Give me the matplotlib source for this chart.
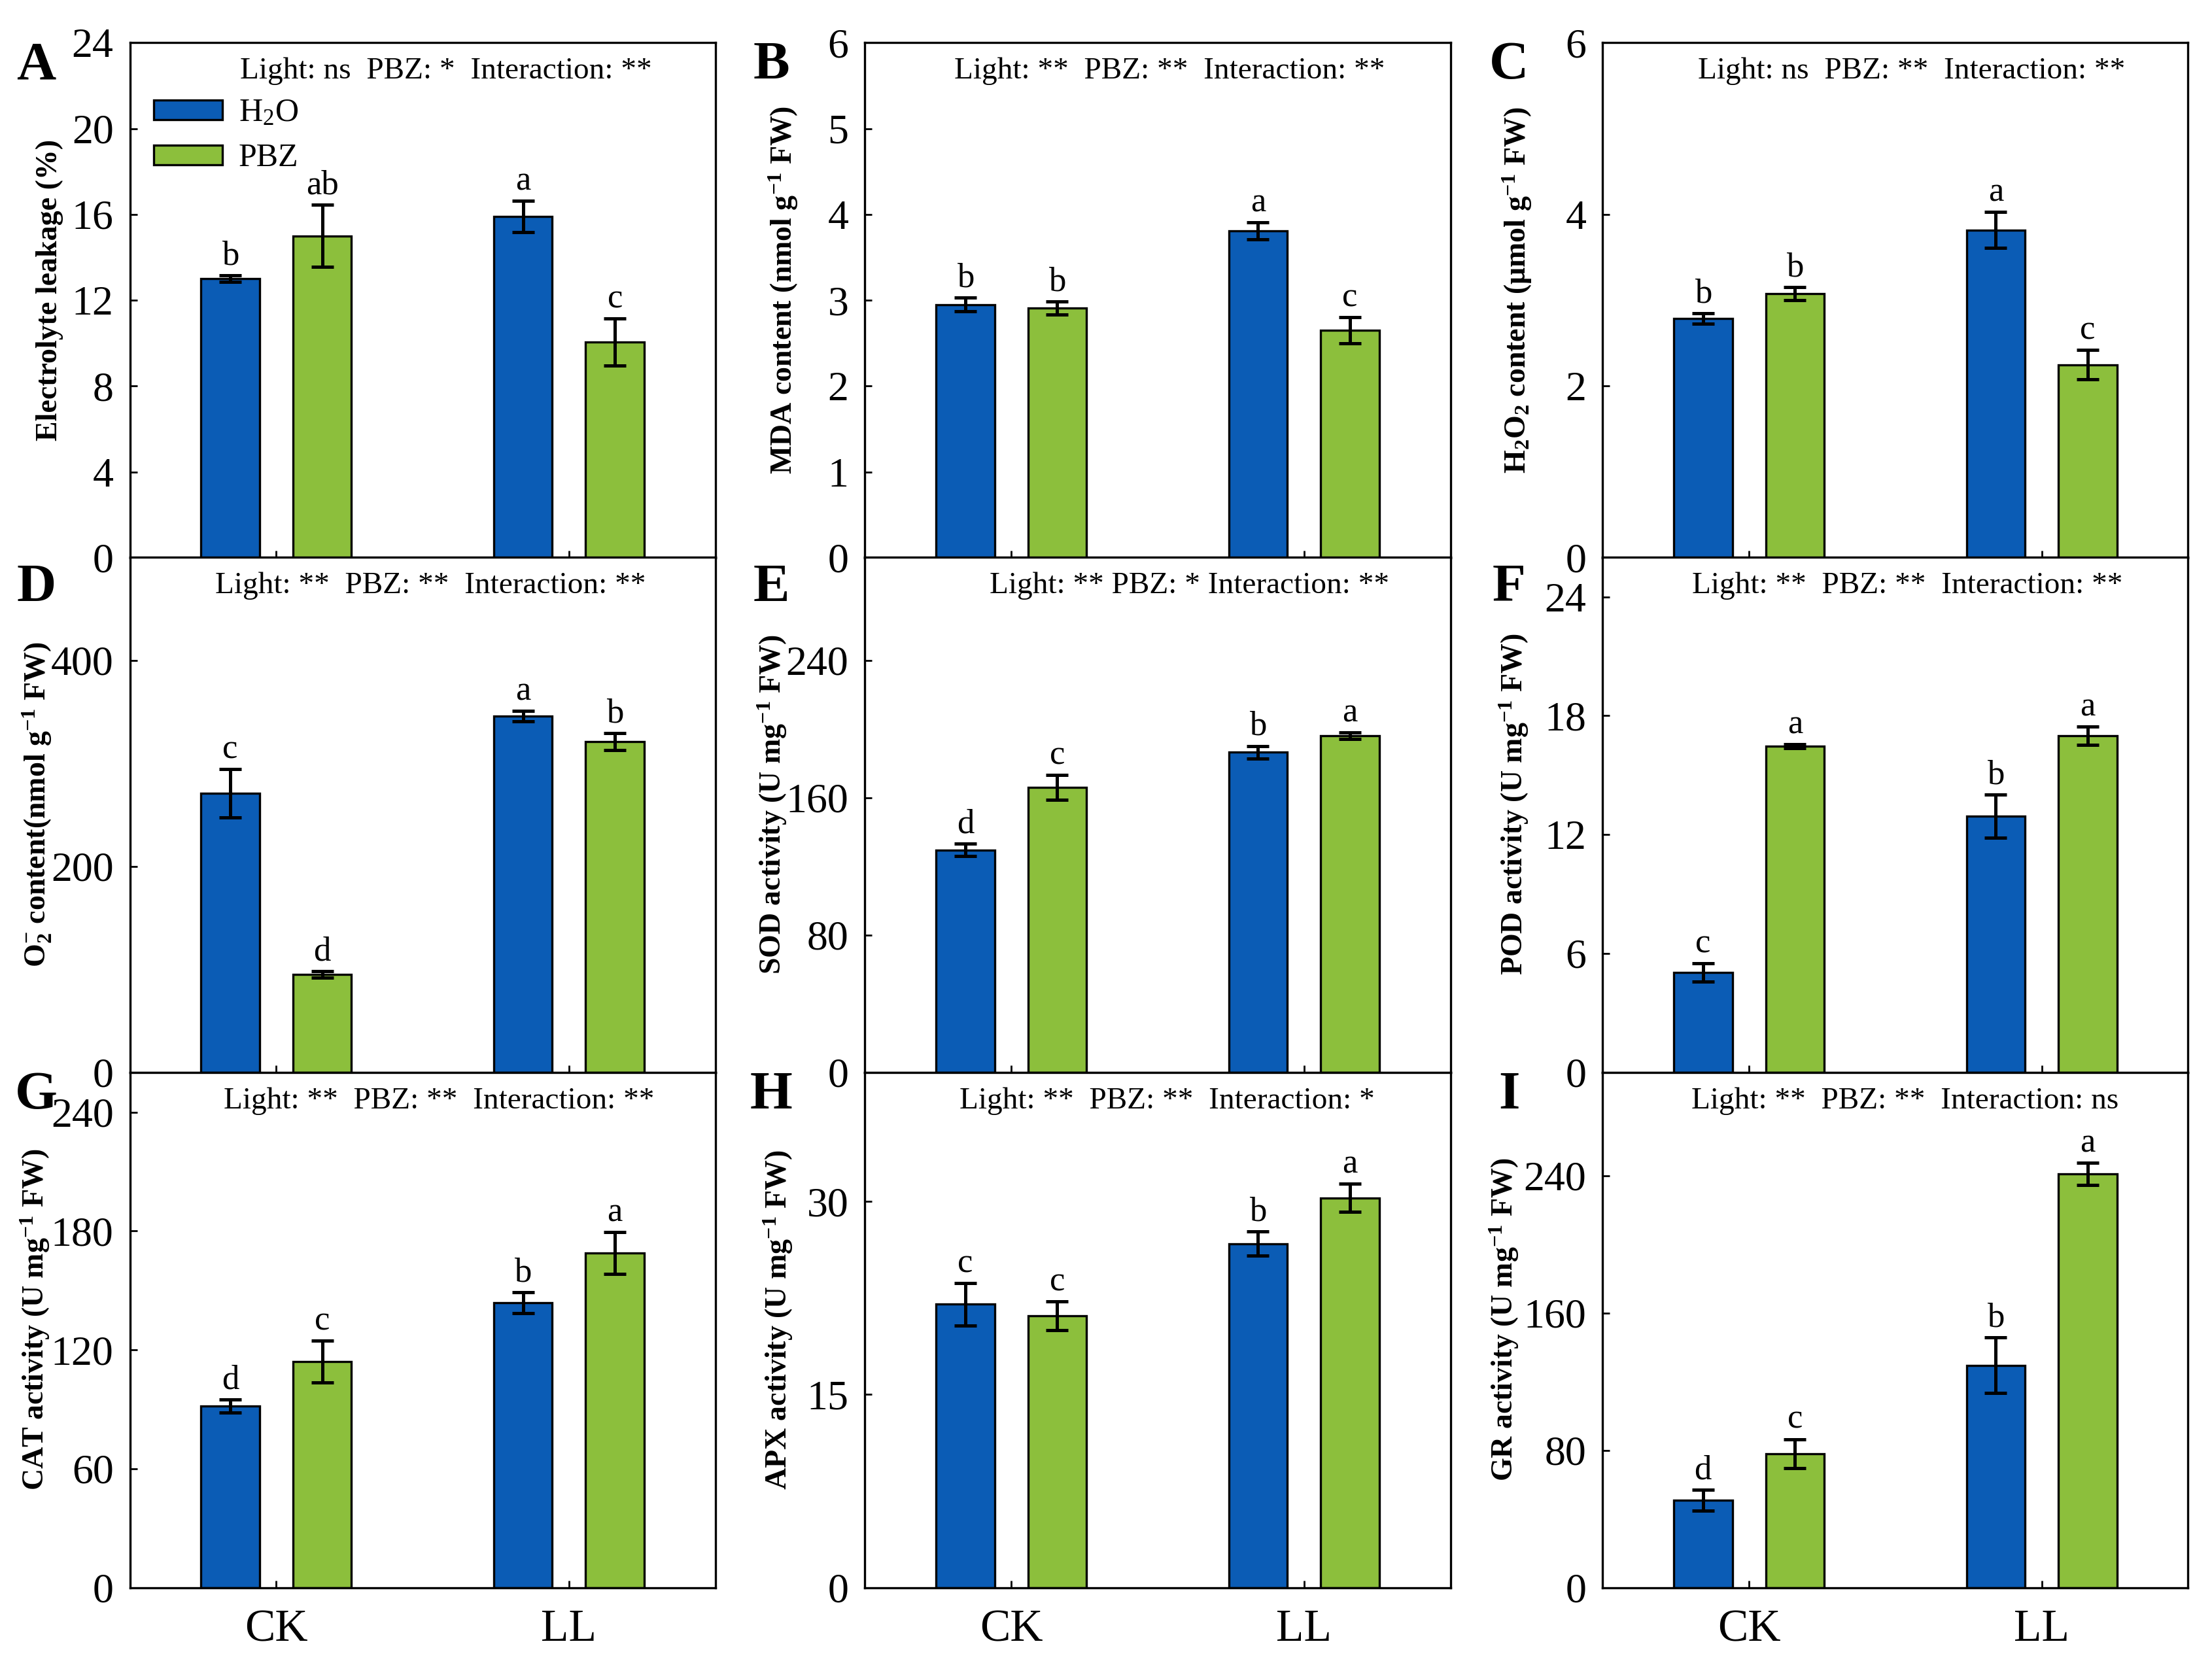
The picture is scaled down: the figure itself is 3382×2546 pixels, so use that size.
import numpy as np
import matplotlib
matplotlib.use("Agg")
import matplotlib.pyplot as plt

plt.rcParams['font.family'] = ['Liberation Serif', 'DejaVu Serif']
plt.rcParams['mathtext.fontset'] = 'custom'
plt.rcParams['mathtext.rm'] = 'Liberation Serif'
plt.rcParams['mathtext.it'] = 'Liberation Serif:italic'
plt.rcParams['mathtext.bf'] = 'Liberation Serif:bold'
plt.rcParams['mathtext.default'] = 'regular'

# groups: CK, LL ; treatments: H2O, PBZ
groups = ["CK", "LL"]
treatments = ["H$_2$O", "PBZ"]

el_h2o = [13.0, 15.9]
el_h2o_err = [0.15, 0.74]
el_pbz = [15.0, 10.05]
el_pbz_err = [1.45, 1.1]
el_letters = [["b", "a"], ["ab", "c"]]

mda_h2o = [2.95, 3.81]
mda_h2o_err = [0.08, 0.10]
mda_pbz = [2.91, 2.65]
mda_pbz_err = [0.076, 0.15]
mda_letters = [["b", "a"], ["b", "c"]]

h2o2_h2o = [2.79, 3.82]
h2o2_h2o_err = [0.06, 0.21]
h2o2_pbz = [3.08, 2.25]
h2o2_pbz_err = [0.076, 0.17]
h2o2_letters = [["b", "a"], ["b", "c"]]

o2_h2o = [271, 346]
o2_h2o_err = [23.5, 5]
o2_pbz = [95, 321]
o2_pbz_err = [3.3, 8]
o2_letters = [["c", "a"], ["d", "b"]]

sod_h2o = [129.5, 186.4]
sod_h2o_err = [3.6, 3.7]
sod_pbz = [166, 196]
sod_pbz_err = [7.2, 2]
sod_letters = [["d", "b"], ["c", "a"]]

pod_h2o = [5.03, 12.93]
pod_h2o_err = [0.46, 1.08]
pod_pbz = [16.46, 16.99]
pod_pbz_err = [0.11, 0.45]
pod_letters = [["c", "b"], ["a", "a"]]

cat_h2o = [91.7, 143.8]
cat_h2o_err = [3.3, 5.2]
cat_pbz = [114, 168.9]
cat_pbz_err = [10.6, 10.5]
cat_letters = [["d", "b"], ["c", "a"]]

apx_h2o = [22.0, 26.7]
apx_h2o_err = [1.63, 0.94]
apx_pbz = [21.1, 30.27]
apx_pbz_err = [1.12, 1.1]
apx_letters = [["c", "b"], ["c", "a"]]

gr_h2o = [50.9, 129.5]
gr_h2o_err = [6.2, 16.2]
gr_pbz = [78, 241.1]
gr_pbz_err = [8.5, 6.4]
gr_letters = [["d", "b"], ["c", "a"]]

panels = [
    ("A", "Electrolyte leakage (%)", el_h2o, el_h2o_err, el_pbz, el_pbz_err, el_letters,
     24, [0, 4, 8, 12, 16, 20, 24], "Light: ns  PBZ: *  Interaction: **"),
    ("B", "MDA content (nmol g$^{-1}$ FW)", mda_h2o, mda_h2o_err, mda_pbz, mda_pbz_err, mda_letters,
     6, [0, 1, 2, 3, 4, 5, 6], "Light: **  PBZ: **  Interaction: **"),
    ("C", "H$_2$O$_2$ content (μmol g$^{-1}$ FW)", h2o2_h2o, h2o2_h2o_err, h2o2_pbz, h2o2_pbz_err, h2o2_letters,
     6, [0, 2, 4, 6], "Light: ns  PBZ: **  Interaction: **"),
    ("D", "O$_2^{-}$ content(nmol g$^{-1}$ FW)", o2_h2o, o2_h2o_err, o2_pbz, o2_pbz_err, o2_letters,
     500, [0, 200, 400], "Light: **  PBZ: **  Interaction: **"),
    ("E", "SOD activity (U mg$^{-1}$ FW)", sod_h2o, sod_h2o_err, sod_pbz, sod_pbz_err, sod_letters,
     300, [0, 80, 160, 240], "Light: ** PBZ: * Interaction: **"),
    ("F", "POD activity (U mg$^{-1}$ FW)", pod_h2o, pod_h2o_err, pod_pbz, pod_pbz_err, pod_letters,
     26, [0, 6, 12, 18, 24], "Light: **  PBZ: **  Interaction: **"),
    ("G", "CAT activity (U mg$^{-1}$ FW)", cat_h2o, cat_h2o_err, cat_pbz, cat_pbz_err, cat_letters,
     260, [0, 60, 120, 180, 240], "Light: **  PBZ: **  Interaction: **"),
    ("H", "APX activity (U mg$^{-1}$ FW)", apx_h2o, apx_h2o_err, apx_pbz, apx_pbz_err, apx_letters,
     40, [0, 15, 30], "Light: **  PBZ: **  Interaction: *"),
    ("I", "GR activity (U mg$^{-1}$ FW)", gr_h2o, gr_h2o_err, gr_pbz, gr_pbz_err, gr_letters,
     300, [0, 80, 160, 240], "Light: **  PBZ: **  Interaction: ns"),
]

# layout tweaks per panel (ylabel x, stat text x)
ylab_x = [-0.113, -0.111, -0.118, -0.13, -0.13, -0.123, -0.133, -0.12, -0.14]
stat_x = [0.54, 0.52, 0.528, 0.513, 0.554, 0.521, 0.528, 0.516, 0.516]

blue = "#0b5cb5"
green = "#8cbf3c"
serif = ['Liberation Serif', 'DejaVu Serif']

fig = plt.figure(figsize=(16.91, 12.73), dpi=200)

lefts = [0.0587, 0.391, 0.7245]
bottoms = [0.6650, 0.3560, 0.0465]
w = 0.2647
h = 0.3093

x = np.array([0.5, 1.5])
off = 0.157
bw = 0.2

for i, (tag, ylab, hv, he, pv, pe, lets, ymax, yt, stat) in enumerate(panels):
    r, c = divmod(i, 3)
    ax = fig.add_axes([lefts[c], bottoms[r], w, h])
    ax.bar(x - off, hv, bw, yerr=he, color=blue, edgecolor="black", linewidth=1.2,
           error_kw=dict(ecolor="black", elinewidth=1.8, capsize=6, capthick=1.8), label=treatments[0])
    ax.bar(x + off, pv, bw, yerr=pe, color=green, edgecolor="black", linewidth=1.2,
           error_kw=dict(ecolor="black", elinewidth=1.8, capsize=6, capthick=1.8), label=treatments[1])
    for j in range(2):
        ax.annotate(lets[0][j], (x[j] - off, hv[j] + he[j]), xytext=(0, 6),
                    textcoords="offset points", ha="center", va="baseline", fontsize=19)
        ax.annotate(lets[1][j], (x[j] + off, pv[j] + pe[j]), xytext=(0, 6),
                    textcoords="offset points", ha="center", va="baseline", fontsize=19)
    ax.set_xlim(0, 2)
    ax.set_ylim(0, ymax)
    ax.set_yticks(yt)
    ax.set_xticks(x)
    if r == 2:
        ax.set_xticklabels(groups, fontsize=25)
    else:
        ax.set_xticklabels([])
    ax.tick_params(axis="y", direction="in", length=4, width=1, labelsize=23, pad=9)
    ax.tick_params(axis="x", direction="in", length=4, width=1, pad=12)
    for s in ax.spines.values():
        s.set_linewidth(1.2)
    ax.set_ylabel(ylab, fontsize=16.5, fontweight="bold")
    ax.yaxis.set_label_coords(ylab_x[i], 0.52)
    ax.text(stat_x[i], 0.945, stat, transform=ax.transAxes, ha="center", va="center",
            fontsize=17, family=serif)
    ax.text(-0.16, 0.955 if r != 1 else 0.94, tag, transform=ax.transAxes, ha="center", va="center",
            fontsize=30, fontweight="bold")
    if i == 0:
        ax.legend(loc="upper left", bbox_to_anchor=(-0.01, 0.95), frameon=False, fontsize=18,
                  handlelength=2.1, handleheight=0.55, labelspacing=0.45, handletextpad=0.5)

fig.savefig("out.png", dpi=200)
